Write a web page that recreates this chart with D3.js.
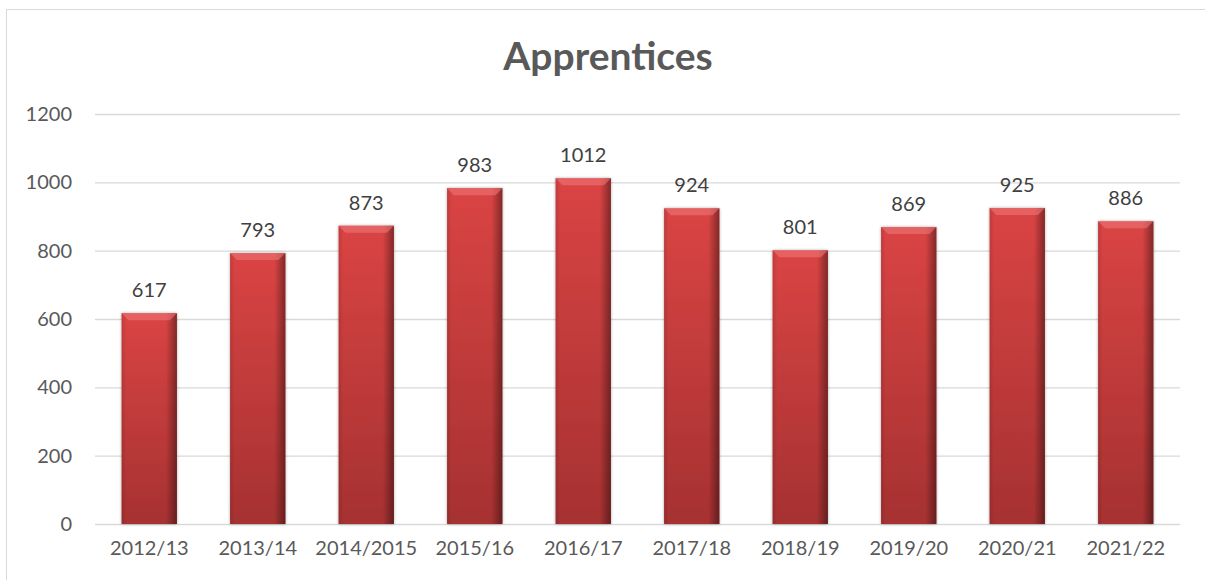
<!DOCTYPE html>
<html>
<head>
<meta charset="utf-8">
<script src="https://cdn.jsdelivr.net/npm/d3@7"></script>
<style>
  body { margin: 0; background: #fff; }
  text { font-family: Lato, "Open Sans", sans-serif; }
</style>
</head>
<body>
<div id="chart"></div>
<script>
var years = ["2012/13","2013/14","2014/2015","2015/16","2016/17","2017/18","2018/19","2019/20","2020/21","2021/22"];
var apprentices = [617, 793, 873, 983, 1012, 924, 801, 869, 925, 886];
var yTicks = [0, 200, 400, 600, 800, 1000, 1200];

var drawChart = function(){
    var width = 1205, height = 580;
    var left = 95, right = 1180, top = 114, bottom = 524;

    var svg = d3.select("#chart").append("svg")
        .attr("width", width).attr("height", height);

    var defs = svg.append("defs");
    var vg = defs.append("linearGradient").attr("id","barV")
        .attr("x1",0).attr("y1",0).attr("x2",0).attr("y2",1);
    vg.append("stop").attr("offset","0%").attr("stop-color","#da4444");
    vg.append("stop").attr("offset","100%").attr("stop-color","#a63131");

    var hg = defs.append("linearGradient").attr("id","barH")
        .attr("x1",0).attr("y1",0).attr("x2",1).attr("y2",0);
    hg.append("stop").attr("offset","0%").attr("stop-color","#000").attr("stop-opacity",0.12);
    hg.append("stop").attr("offset","8%").attr("stop-color","#000").attr("stop-opacity",0);
    hg.append("stop").attr("offset","80%").attr("stop-color","#000").attr("stop-opacity",0);
    hg.append("stop").attr("offset","100%").attr("stop-color","#000").attr("stop-opacity",0.4);

    var sh = defs.append("filter").attr("id","shadow")
        .attr("x","-20%").attr("y","-5%").attr("width","140%").attr("height","110%");
    sh.append("feGaussianBlur").attr("in","SourceAlpha").attr("stdDeviation",1.5).attr("result","b");
    sh.append("feComponentTransfer").attr("in","b").attr("result","s")
      .append("feFuncA").attr("type","linear").attr("slope",0.35);
    var mg = sh.append("feMerge");
    mg.append("feMergeNode").attr("in","s");
    mg.append("feMergeNode").attr("in","SourceGraphic");

    // chart border
    svg.append("rect").attr("x",6.5).attr("y",9.5).attr("width",1210).attr("height",590)
        .attr("fill","none").attr("stroke","#d9d9d9");

    var x = d3.scaleBand().domain(years).range([left, right]).paddingInner(0.49).paddingOuter(0.245);
    var y = d3.scaleLinear().domain([0, 1200]).range([bottom, top]);

    // gridlines
    svg.append("g").selectAll("line").data(yTicks).enter().append("line")
        .attr("x1", left).attr("x2", right)
        .attr("y1", function(d){ return y(d) + 0.5; })
        .attr("y2", function(d){ return y(d) + 0.5; })
        .attr("stroke", "#d9d9d9").attr("stroke-width", 1.3);

    // y axis labels
    var yAxis = d3.axisLeft(y).tickValues(yTicks).tickFormat(d3.format("d")).tickSize(0).tickPadding(23);
    var gy = svg.append("g").attr("transform","translate(" + left + ",0)").call(yAxis);
    gy.select(".domain").remove();
    gy.selectAll("text").attr("font-size", 20).attr("fill","#595959")
        .style("font-family","Lato, sans-serif");

    // x axis labels
    var xAxis = d3.axisBottom(x).tickSize(0).tickPadding(17);
    var gx = svg.append("g").attr("transform","translate(0," + bottom + ")").call(xAxis);
    gx.select(".domain").remove();
    gx.selectAll("text").attr("font-size", 20).attr("fill","#595959")
        .style("font-family","Lato, sans-serif");

    // bars
    var bars = svg.append("g").selectAll("g").data(apprentices).enter().append("g");
    bars.append("rect")
        .attr("x", function(d,i){ return x(years[i]); })
        .attr("y", function(d){ return y(d); })
        .attr("width", x.bandwidth())
        .attr("height", function(d){ return bottom - y(d); })
        .attr("fill", "url(#barV)")
        .attr("filter", "url(#shadow)");
    bars.append("rect")
        .attr("x", function(d,i){ return x(years[i]); })
        .attr("y", function(d){ return y(d); })
        .attr("width", x.bandwidth())
        .attr("height", function(d){ return bottom - y(d); })
        .attr("fill", "url(#barH)");
    // top bevel highlight
    bars.append("path")
        .attr("d", function(d,i){
            var x0 = x(years[i]), x1 = x0 + x.bandwidth(), y0 = y(d), b = 7;
            return "M" + x0 + "," + y0 + "L" + x1 + "," + y0 + "L" + (x1 - b) + "," + (y0 + b) + "L" + (x0 + b) + "," + (y0 + b) + "Z";
        })
        .attr("fill", "#f07a7a").attr("opacity", 0.55);

    // value labels
    svg.append("g").selectAll("text").data(apprentices).enter().append("text")
        .attr("x", function(d,i){ return x(years[i]) + x.bandwidth()/2; })
        .attr("y", function(d){ return y(d) - 16; })
        .attr("text-anchor","middle")
        .attr("font-size", 20).attr("fill","#404040")
        .text(function(d){ return d; });

    // title
    svg.append("text").attr("x", 608).attr("y", 70)
        .attr("text-anchor","middle")
        .attr("font-size", 39).attr("font-weight","bold").attr("fill","#595959")
        .text("Apprentices");
};

drawChart();
</script>
</body>
</html>
